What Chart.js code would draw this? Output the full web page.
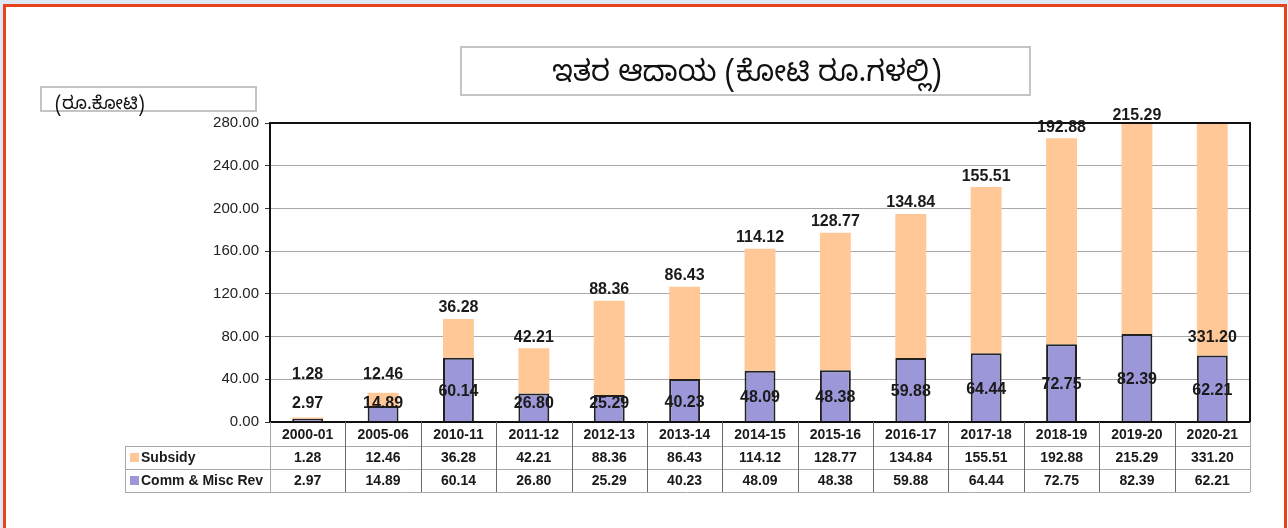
<!DOCTYPE html>
<html>
<head>
<meta charset="utf-8">
<script src="https://cdn.jsdelivr.net/npm/chart.js@4.4.1/dist/chart.umd.min.js"></script>
<style>
  html, body { margin: 0; padding: 0; background: #ffffff; }
  canvas { display: block; }
</style>
</head>
<body>
<canvas id="chartCanvas" width="1288" height="528"></canvas>
<script>
// Datos
const years = ['2000-01', '2005-06', '2010-11', '2011-12', '2012-13', '2013-14', '2014-15',
               '2015-16', '2016-17', '2017-18', '2018-19', '2019-20', '2020-21'];
const subsidy = [1.28, 12.46, 36.28, 42.21, 88.36, 86.43, 114.12, 128.77, 134.84, 155.51, 192.88, 215.29, 331.20];
const commMisc = [2.97, 14.89, 60.14, 26.80, 25.29, 40.23, 48.09, 48.38, 59.88, 64.44, 72.75, 82.39, 62.21];
const yTicks = [0, 40, 80, 120, 160, 200, 240, 280];
const seriesNames = ['Subsidy', 'Comm & Misc Rev'];
const chartTitle = 'ಇತರ ಆದಾಯ (ಕೋಟಿ ರೂ.ಗಳಲ್ಲಿ)';
const unitLabel = '(ರೂ.ಕೋಟಿ)';

const peach = '#ffc896';
const purple = '#9b97d8';
const knFont = '"Noto Sans Kannada", "Lohit Kannada", "Noto Sans", sans-serif';
const numFont = '"Liberation Sans", Arial, sans-serif';

// Marco, títulos, etiquetas y tabla de datos
const decor = {
    id: 'decor',
    beforeDraw(chart) {
        const c = chart.ctx;
        c.save();
        c.fillStyle = '#ffffff';
        c.fillRect(0, 0, chart.width, chart.height);
        c.fillStyle = '#dde8f4';
        c.fillRect(0, 0, chart.width, 4);
        c.fillRect(0, 0, 3, chart.height);
        c.strokeStyle = '#e8431e';
        c.lineWidth = 3;
        c.beginPath();
        c.moveTo(4.5, chart.height);
        c.lineTo(4.5, 5.5);
        c.lineTo(1285.5, 5.5);
        c.lineTo(1285.5, chart.height);
        c.stroke();

        // caja del título
        c.strokeStyle = '#c4c4c4';
        c.lineWidth = 2;
        c.strokeRect(461, 47, 569, 48);
        c.fillStyle = '#111';
        c.font = '29px ' + knFont;
        c.textAlign = 'center';
        c.textBaseline = 'alphabetic';
        c.fillText(chartTitle, 747, 81);

        // caja de unidades
        c.strokeRect(41, 87, 215, 24);
        c.font = '18px ' + knFont;
        c.textAlign = 'left';
        c.fillText(unitLabel, 55, 109);
        c.restore();
    },
    afterDatasetsDraw(chart) {
        const c = chart.ctx;
        const a = chart.chartArea;
        const y = chart.scales.y;
        const x = chart.scales.x;
        c.save();

        // borde del área del gráfico
        c.strokeStyle = '#111';
        c.lineWidth = 2;
        c.strokeRect(a.left, a.top, a.right - a.left, a.bottom - a.top);

        // etiquetas de valores
        c.font = 'bold 16px ' + numFont;
        c.fillStyle = '#1a1a1a';
        c.textAlign = 'center';
        c.textBaseline = 'middle';
        const commMeta = chart.getDatasetMeta(0);
        const subMeta = chart.getDatasetMeta(1);
        years.forEach((yr, i) => {
            const cb = commMeta.data[i];
            const sb = subMeta.data[i];
            const commTop = Math.max(cb.y, a.top);
            const commLabelY = Math.min((commTop + cb.base) / 2 + 2, cb.base - 18);
            c.fillText(commMisc[i].toFixed(2), cb.x, commLabelY);

            let subLabelY;
            if (subsidy[i] + commMisc[i] > y.max + 30) {
                subLabelY = commTop - 18;
            } else {
                subLabelY = Math.min(Math.max(sb.y, a.top + 4) - 11, y.getPixelForValue(44));
            }
            c.fillText(subsidy[i].toFixed(2), sb.x, subLabelY);
        });

        // tabla de datos
        const colW = (a.right - a.left) / years.length;
        const r0 = a.bottom, r1 = a.bottom + 24, r2 = r1 + 23, r3 = r2 + 23;
        const legLeft = 125;
        c.lineWidth = 1;
        c.strokeStyle = '#a8a8a8';
        c.beginPath();
        c.moveTo(legLeft, r1 + 0.5); c.lineTo(a.right, r1 + 0.5);
        c.moveTo(legLeft, r2 + 0.5); c.lineTo(a.right, r2 + 0.5);
        c.moveTo(legLeft, r3 + 0.5); c.lineTo(a.right, r3 + 0.5);
        c.moveTo(legLeft + 0.5, r1); c.lineTo(legLeft + 0.5, r3);
        c.moveTo(a.left + 0.5, r0); c.lineTo(a.left + 0.5, r3);
        c.moveTo(a.right + 0.5, r0); c.lineTo(a.right + 0.5, r3);
        c.stroke();
        c.strokeStyle = '#6a6a6a';
        c.beginPath();
        for (let i = 1; i < years.length; i++) {
            const xx = Math.round(a.left + i * colW) + 0.5;
            c.moveTo(xx, r0); c.lineTo(xx, r3);
        }
        c.stroke();

        c.font = 'bold 14px ' + numFont;
        c.fillStyle = '#1a1a1a';
        c.textBaseline = 'middle';
        const rowVals = [subsidy, commMisc];
        const rowCol = [peach, purple];
        [r1, r2].forEach((rt, k) => {
            const cy = rt + 12;
            c.fillStyle = rowCol[k];
            c.fillRect(legLeft + 5, cy - 5, 9, 9);
            c.fillStyle = '#1a1a1a';
            c.textAlign = 'left';
            c.fillText(seriesNames[k], legLeft + 16, cy);
            c.textAlign = 'center';
            rowVals[k].forEach((v, i) => {
                c.fillText(v.toFixed(2), x.getPixelForValue(i), cy);
            });
        });
        c.restore();
    }
};

const ctx = document.getElementById('chartCanvas').getContext('2d');
new Chart(ctx, {
    type: 'bar',
    data: {
        labels: years,
        datasets: [{
            label: seriesNames[1],
            data: commMisc,
            backgroundColor: purple,
            borderColor: '#222222',
            borderWidth: 2,
            borderSkipped: 'bottom',
            barPercentage: 0.5,
            categoryPercentage: 0.82
        }, {
            label: seriesNames[0],
            data: subsidy,
            backgroundColor: peach,
            borderWidth: 0,
            barPercentage: 0.5,
            categoryPercentage: 0.82
        }]
    },
    options: {
        responsive: false,
        animation: false,
        layout: { padding: { top: 123, right: 38, left: 0, bottom: 0 } },
        plugins: {
            legend: { display: false },
            title: { display: false },
            tooltip: { enabled: false }
        },
        scales: {
            x: {
                stacked: true,
                grid: { display: false, drawTicks: false },
                border: { display: false },
                ticks: {
                    color: '#1a1a1a',
                    font: { family: numFont, size: 14, weight: 'bold' },
                    padding: 5,
                    maxRotation: 0
                },
                afterFit(scale) { scale.height = 106; }
            },
            y: {
                stacked: true,
                min: 0,
                max: 280,
                afterBuildTicks(scale) { scale.ticks = yTicks.map(v => ({ value: v })); },
                grid: { color: '#a8a8a8', lineWidth: 1, tickLength: 5, tickColor: '#333' },
                border: { display: false },
                ticks: {
                    color: '#222',
                    font: { family: numFont, size: 15 },
                    padding: 6,
                    callback: v => Number(v).toFixed(2)
                },
                afterFit(scale) { scale.width = 270; }
            }
        }
    },
    plugins: [decor]
});
</script>
</body>
</html>
